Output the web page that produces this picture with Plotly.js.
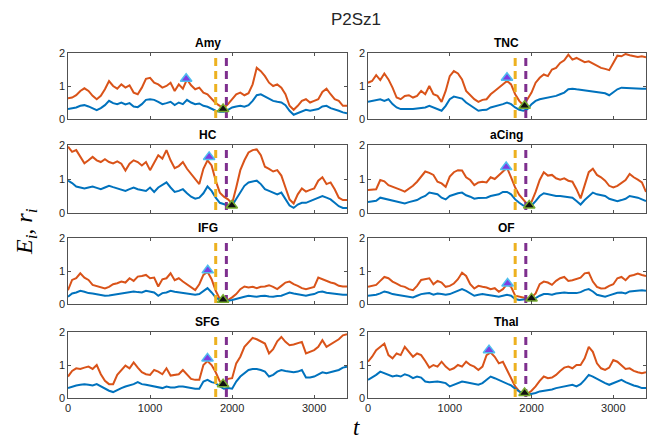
<!DOCTYPE html>
<html>
<head>
<meta charset="utf-8">
<script src="https://cdn.plot.ly/plotly-3.0.1.min.js"></script>
<style>html,body{margin:0;padding:0;background:#fff;}#plot{width:652px;height:441px;}</style>
</head>
<body>
<div id="plot"></div>
<script>
// ---------- DATA ----------
const t = [0,50,100,150,200,250,300,350,400,450,
  500,550,600,650,700,750,800,850,900,950,
  1000,1050,1100,1150,1200,1250,1300,1350,1400,1450,
  1500,1550,1600,1650,1700,1750,1800,1850,1900,1950,
  2000,2050,2100,2150,2200,2250,2300,2350,2400,2450,
  2500,2550,2600,2650,2700,2750,2800,2850,2900,2950,
  3000,3050,3100,3150,3200,3250,3300,3350,3400];

const regions = ["Amy","TNC","HC","aCing","IFG","OF","SFG","Thal"];

const E_Amy = [0.63,0.65,0.72,0.85,0.93,0.85,0.70,0.60,0.70,0.90,
  1.15,1.00,0.92,1.05,0.95,1.02,0.80,0.75,0.95,1.22,
  1.25,1.10,1.05,0.95,1.00,1.10,0.85,1.05,0.92,1.20,
  1.02,0.90,0.95,0.80,0.75,0.60,0.48,0.40,0.34,0.45,
  0.60,0.75,0.80,0.72,0.78,1.05,1.55,1.45,1.30,1.10,
  1.00,1.05,0.95,0.75,0.40,0.28,0.40,0.55,0.60,0.50,
  0.55,0.60,0.82,0.92,0.75,0.60,0.55,0.40,0.40];
const r_Amy = [0.30,0.32,0.35,0.40,0.42,0.38,0.32,0.27,0.33,0.42,
  0.55,0.48,0.45,0.50,0.44,0.48,0.38,0.36,0.45,0.58,
  0.60,0.58,0.52,0.45,0.48,0.52,0.42,0.50,0.45,0.58,
  0.50,0.45,0.47,0.40,0.37,0.30,0.25,0.22,0.22,0.28,
  0.35,0.38,0.40,0.37,0.42,0.55,0.72,0.75,0.68,0.60,
  0.55,0.52,0.50,0.42,0.25,0.13,0.18,0.22,0.28,0.25,
  0.27,0.30,0.38,0.40,0.33,0.30,0.25,0.20,0.17];

const E_TNC = [1.10,1.15,1.33,1.18,1.38,1.20,0.95,0.65,0.60,0.70,
  0.72,0.65,0.70,0.85,0.75,1.00,0.75,0.70,0.52,0.85,
  1.30,1.45,1.38,1.20,0.85,0.72,0.60,0.52,0.58,0.60,
  0.75,0.85,0.95,1.05,1.15,1.05,0.75,0.55,0.42,0.60,
  0.80,1.10,1.25,1.35,1.30,1.50,1.55,1.70,1.78,1.95,
  1.80,1.85,1.78,1.72,1.75,1.68,1.60,1.55,1.52,1.48,
  1.70,1.92,1.90,1.97,1.93,1.90,1.88,1.90,1.87];
const r_TNC = [0.52,0.55,0.58,0.60,0.55,0.60,0.45,0.35,0.30,0.30,
  0.28,0.30,0.32,0.33,0.35,0.40,0.35,0.32,0.25,0.40,
  0.60,0.68,0.65,0.62,0.50,0.42,0.35,0.25,0.27,0.28,
  0.35,0.38,0.42,0.45,0.50,0.45,0.35,0.28,0.25,0.30,
  0.45,0.55,0.60,0.62,0.65,0.68,0.70,0.75,0.80,0.90,
  0.92,0.90,0.88,0.87,0.85,0.84,0.82,0.80,0.78,0.72,
  0.80,0.90,0.95,0.94,0.93,0.94,0.93,0.92,0.92];

const E_HC = [1.95,1.80,1.85,1.65,1.46,1.55,1.65,1.55,1.50,1.58,
  1.50,1.46,1.52,1.45,1.25,1.45,1.55,1.50,1.40,1.50,
  1.26,1.48,1.70,1.60,1.85,1.55,1.32,1.38,1.50,1.30,
  1.15,1.00,0.85,1.30,1.55,1.40,0.95,0.60,0.48,0.40,
  0.28,0.75,1.26,1.55,1.78,1.85,1.87,1.70,1.36,1.30,
  1.22,1.26,1.10,0.75,0.40,0.28,0.55,0.72,0.63,0.68,
  0.72,0.95,1.05,0.85,0.90,0.70,0.45,0.38,0.38];
const r_HC = [0.95,0.88,0.78,0.74,0.72,0.75,0.78,0.74,0.70,0.75,
  0.80,0.76,0.72,0.68,0.65,0.70,0.75,0.70,0.68,0.65,
  0.75,0.62,0.75,0.82,0.90,0.75,0.62,0.65,0.70,0.58,
  0.48,0.42,0.45,0.58,0.78,0.65,0.45,0.30,0.25,0.22,
  0.22,0.40,0.60,0.80,0.90,0.93,0.95,0.85,0.70,0.65,
  0.60,0.55,0.60,0.42,0.22,0.15,0.25,0.30,0.30,0.35,
  0.40,0.45,0.50,0.45,0.40,0.30,0.20,0.15,0.15];

const E_aCing = [0.68,0.68,0.70,0.97,0.93,0.82,0.78,0.73,0.68,0.63,
  0.72,0.80,0.92,1.07,1.22,1.18,1.12,0.92,0.87,0.77,
  1.07,1.20,1.26,1.25,1.05,0.97,0.82,0.90,0.92,0.90,
  1.05,1.00,1.12,1.22,1.33,1.05,0.75,0.53,0.40,0.25,
  0.33,0.62,0.97,1.20,1.10,1.12,1.02,0.98,1.02,0.95,
  0.92,0.70,0.43,0.85,1.20,1.30,1.12,1.05,0.95,0.80,
  0.75,0.80,0.88,0.97,1.15,1.05,0.98,0.90,0.62];
const r_aCing = [0.32,0.33,0.36,0.45,0.42,0.40,0.36,0.33,0.30,0.28,
  0.32,0.35,0.38,0.45,0.50,0.60,0.58,0.55,0.45,0.40,
  0.50,0.55,0.58,0.60,0.52,0.48,0.42,0.44,0.45,0.45,
  0.50,0.52,0.55,0.62,0.62,0.55,0.40,0.30,0.22,0.20,
  0.22,0.35,0.50,0.58,0.55,0.52,0.50,0.50,0.48,0.47,
  0.45,0.35,0.25,0.38,0.50,0.60,0.55,0.52,0.50,0.42,
  0.38,0.35,0.38,0.42,0.50,0.48,0.45,0.40,0.35];

const E_IFG = [0.42,0.73,0.78,0.93,0.80,0.73,0.58,0.55,0.50,0.47,
  0.52,0.60,0.63,0.68,0.65,0.78,0.70,0.83,0.85,0.88,
  0.78,0.80,0.53,0.75,0.78,0.93,0.72,0.78,0.68,0.60,
  0.50,0.42,0.60,0.88,0.98,0.75,0.40,0.15,0.10,0.12,
  0.20,0.30,0.45,0.53,0.50,0.52,0.48,0.52,0.53,0.57,
  0.52,0.45,0.55,0.65,0.68,0.60,0.55,0.48,0.45,0.48,
  0.52,0.80,0.75,0.68,0.65,0.62,0.55,0.53,0.53];
const r_IFG = [0.22,0.32,0.35,0.40,0.37,0.33,0.32,0.30,0.28,0.25,
  0.26,0.28,0.30,0.30,0.32,0.35,0.38,0.36,0.35,0.40,
  0.37,0.35,0.25,0.33,0.35,0.40,0.37,0.35,0.33,0.32,
  0.30,0.28,0.30,0.40,0.48,0.35,0.20,0.12,0.10,0.10,
  0.12,0.16,0.20,0.22,0.25,0.23,0.22,0.24,0.25,0.23,
  0.22,0.24,0.25,0.30,0.35,0.32,0.30,0.26,0.25,0.28,
  0.30,0.36,0.38,0.34,0.32,0.30,0.28,0.28,0.28];

const E_OF = [0.52,0.55,0.58,0.70,0.82,0.78,0.68,0.62,0.55,0.52,
  0.45,0.42,0.55,0.73,0.75,0.78,0.60,0.70,0.65,0.52,
  0.55,0.62,0.75,0.95,0.85,0.60,0.47,0.55,0.52,0.50,
  0.45,0.48,0.37,0.45,0.60,0.52,0.25,0.22,0.20,0.17,
  0.20,0.32,0.60,0.68,0.65,0.58,0.70,0.78,0.82,0.70,
  0.72,0.75,0.80,0.93,0.95,0.68,0.52,0.47,0.48,0.55,
  0.60,0.78,0.82,0.72,0.85,0.88,0.92,0.88,0.85];
const r_OF = [0.25,0.26,0.28,0.32,0.38,0.35,0.30,0.28,0.26,0.25,
  0.22,0.20,0.25,0.30,0.32,0.33,0.28,0.32,0.30,0.28,
  0.30,0.35,0.40,0.45,0.40,0.32,0.25,0.28,0.30,0.28,
  0.25,0.24,0.22,0.25,0.28,0.25,0.15,0.12,0.13,0.14,
  0.15,0.18,0.25,0.30,0.30,0.28,0.32,0.33,0.35,0.33,
  0.32,0.33,0.36,0.42,0.45,0.38,0.28,0.24,0.22,0.26,
  0.30,0.34,0.35,0.32,0.38,0.40,0.40,0.42,0.40];

const E_SFG = [0.65,0.82,0.90,0.88,0.92,0.95,0.88,1.00,0.72,0.52,
  0.42,0.42,0.70,0.85,0.98,0.90,1.08,0.92,0.78,0.72,
  0.70,0.85,0.80,0.72,0.90,0.68,0.70,0.72,0.85,0.70,
  0.58,0.55,0.55,1.00,1.12,1.00,0.78,0.50,0.45,0.58,
  0.60,1.05,1.25,1.55,1.68,1.82,1.78,1.72,1.65,1.35,
  1.48,1.72,1.85,1.70,1.60,1.62,1.65,1.70,1.35,1.40,
  1.45,1.55,1.75,1.55,1.62,1.70,1.78,1.90,1.93];
const r_SFG = [0.30,0.35,0.38,0.40,0.42,0.40,0.38,0.42,0.35,0.28,
  0.22,0.18,0.25,0.30,0.35,0.38,0.42,0.48,0.42,0.40,
  0.38,0.35,0.33,0.30,0.35,0.32,0.32,0.35,0.35,0.32,
  0.30,0.28,0.28,0.50,0.55,0.48,0.45,0.35,0.28,0.30,
  0.28,0.50,0.65,0.75,0.85,0.88,0.88,0.85,0.80,0.65,
  0.70,0.80,0.85,0.82,0.80,0.78,0.80,0.85,0.62,0.62,
  0.65,0.72,0.78,0.75,0.78,0.82,0.85,0.92,0.95];

const E_Thal = [1.10,1.25,1.45,1.55,1.65,1.30,1.20,1.35,1.30,1.55,
  1.40,1.25,1.35,1.30,1.12,0.92,1.00,0.95,1.10,0.95,
  0.85,0.90,1.00,0.95,1.10,1.00,0.95,0.85,0.95,1.30,
  1.38,1.25,1.05,1.10,0.85,0.62,0.35,0.20,0.13,0.13,
  0.22,0.35,0.52,0.65,0.60,0.62,0.70,0.82,0.92,0.95,
  0.90,1.00,1.00,1.20,1.55,1.40,1.05,0.90,0.85,0.92,
  1.15,1.10,0.98,0.88,0.90,0.82,0.78,0.75,0.78];
const r_Thal = [0.55,0.62,0.70,0.80,0.75,0.68,0.65,0.68,0.65,0.72,
  0.68,0.60,0.65,0.62,0.50,0.48,0.50,0.50,0.48,0.45,
  0.35,0.40,0.45,0.50,0.48,0.45,0.42,0.40,0.45,0.55,
  0.65,0.60,0.55,0.50,0.45,0.38,0.28,0.20,0.12,0.10,
  0.12,0.15,0.20,0.22,0.22,0.26,0.30,0.33,0.35,0.38,
  0.40,0.35,0.42,0.55,0.70,0.65,0.58,0.50,0.45,0.40,
  0.45,0.50,0.55,0.48,0.42,0.38,0.35,0.30,0.30];

const Eseries = [E_Amy,E_TNC,E_HC,E_aCing,E_IFG,E_OF,E_SFG,E_Thal];
const rseries = [r_Amy,r_TNC,r_HC,r_aCing,r_IFG,r_OF,r_SFG,r_Thal];

// event markers
const peakT = [1440,1700,1720,1690,1703,1707,1700,1480];
const peakY = [1.22,1.25,1.65,1.35,1.02,0.62,1.20,1.45];
const minT  = [1890,1915,1996,1972,1890,2000,1890,1915];
const minY  = [0.30,0.40,0.22,0.22,0.13,0.17,0.42,0.15];

// vertical event lines
const onsetT = 1800;
const offsetT = 1930;
const eventLineY = [1.85, 0];

const xTicks = [0,1000,2000,3000];
const yTicks = [0,1,2];

// ---------- LAYOUT ----------
const W = 652, H = 441;
const colPx = [[68,347],[368,646]];
const rowPx = [[53,119],[145,213],[238,304],[332,398]];
const axisColor = '#262626';
const tickFont = {family:'Liberation Sans, Arial, sans-serif', size:11, color:axisColor};

const traces = [];
const layout = {
  width:W, height:H, margin:{l:0,r:0,t:0,b:0},
  paper_bgcolor:'#ffffff', plot_bgcolor:'#ffffff',
  showlegend:false,
  title:{text:'P2Sz1', x:356/W, xref:'paper', xanchor:'center', y:1-19/H, yref:'container', yanchor:'middle',
         font:{family:'Liberation Sans, Arial, sans-serif', size:17, color:axisColor}},
  annotations:[], shapes:[]
};

for (let i=0;i<8;i++){
  const col = i%2, row = Math.floor(i/2);
  const n = i+1;
  const xa = n===1?'x':'x'+n, ya = n===1?'y':'y'+n;
  const xk = n===1?'xaxis':'xaxis'+n, yk = n===1?'yaxis':'yaxis'+n;
  layout[xk] = {
    domain:[colPx[col][0]/W, colPx[col][1]/W], anchor:ya, range:[0,3400],
    tickvals:xTicks, ticktext:xTicks.map(String), showticklabels: row===3,
    ticks:'inside', ticklen:3, tickwidth:0.8, tickcolor:axisColor,
    showline:true, mirror:'ticks', linecolor:axisColor, linewidth:0.8,
    showgrid:false, zeroline:false, tickfont:tickFont, fixedrange:true
  };
  layout[yk] = {
    domain:[1-rowPx[row][1]/H, 1-rowPx[row][0]/H], anchor:xa, range:[0,2],
    tickvals:yTicks, ticktext:yTicks.map(String),
    ticks:'inside', ticklen:3, tickwidth:0.8, tickcolor:axisColor,
    showline:true, mirror:'ticks', linecolor:axisColor, linewidth:0.8,
    showgrid:false, zeroline:false, tickfont:tickFont, fixedrange:true
  };
  traces.push({x:t, y:Eseries[i], xaxis:xa, yaxis:ya, type:'scatter', mode:'lines',
    line:{color:'#D95319', width:2}, hoverinfo:'skip'});
  traces.push({x:t, y:rseries[i], xaxis:xa, yaxis:ya, type:'scatter', mode:'lines',
    line:{color:'#0072BD', width:2}, hoverinfo:'skip'});
  traces.push({x:[onsetT,onsetT], y:eventLineY, xaxis:xa, yaxis:ya, type:'scatter', mode:'lines',
    line:{color:'#EDB120', width:3, dash:'8px,5px'}, hoverinfo:'skip'});
  traces.push({x:[offsetT,offsetT], y:eventLineY, xaxis:xa, yaxis:ya, type:'scatter', mode:'lines',
    line:{color:'#7E2F8E', width:3, dash:'8px,5px'}, hoverinfo:'skip'});
  traces.push({x:[peakT[i]], y:[peakY[i]], xaxis:xa, yaxis:ya, type:'scatter', mode:'markers',
    marker:{symbol:'triangle-up', size:10, color:'#7B3FE4', line:{color:'#4DBEEE', width:1.5}}, cliponaxis:false, hoverinfo:'skip'});
  traces.push({x:[minT[i]], y:[minY[i]], xaxis:xa, yaxis:ya, type:'scatter', mode:'markers',
    marker:{symbol:'triangle-up', size:10, color:'#111111', line:{color:'#77AC30', width:1.5}}, cliponaxis:false, hoverinfo:'skip'});
  layout.annotations.push({
    text:'<b>'+regions[i]+'</b>', xref:'paper', yref:'paper',
    x:(colPx[col][0]+colPx[col][1])/2/W, y:1-(rowPx[row][0]-10)/H,
    xanchor:'center', yanchor:'middle', showarrow:false,
    font:{family:'Liberation Sans, Arial, sans-serif', size:12, color:'#000000'}
  });
}

layout.annotations.push({
  text:'<i>E<sub>i</sub></i>, <i>r<sub>i</sub></i>', xref:'paper', yref:'paper',
  x:26/W, y:1-232/H, xanchor:'center', yanchor:'middle', textangle:-90, showarrow:false,
  font:{family:'Liberation Serif, DejaVu Serif, serif', size:24, color:'#000000'}
});
layout.annotations.push({
  text:'<i>t</i>', xref:'paper', yref:'paper',
  x:357/W, y:1-427/H, xanchor:'center', yanchor:'middle', showarrow:false,
  font:{family:'Liberation Serif, DejaVu Serif, serif', size:23, color:'#000000'}
});

Plotly.newPlot('plot', traces, layout, {staticPlot:true, displayModeBar:false});
</script>
</body>
</html>
